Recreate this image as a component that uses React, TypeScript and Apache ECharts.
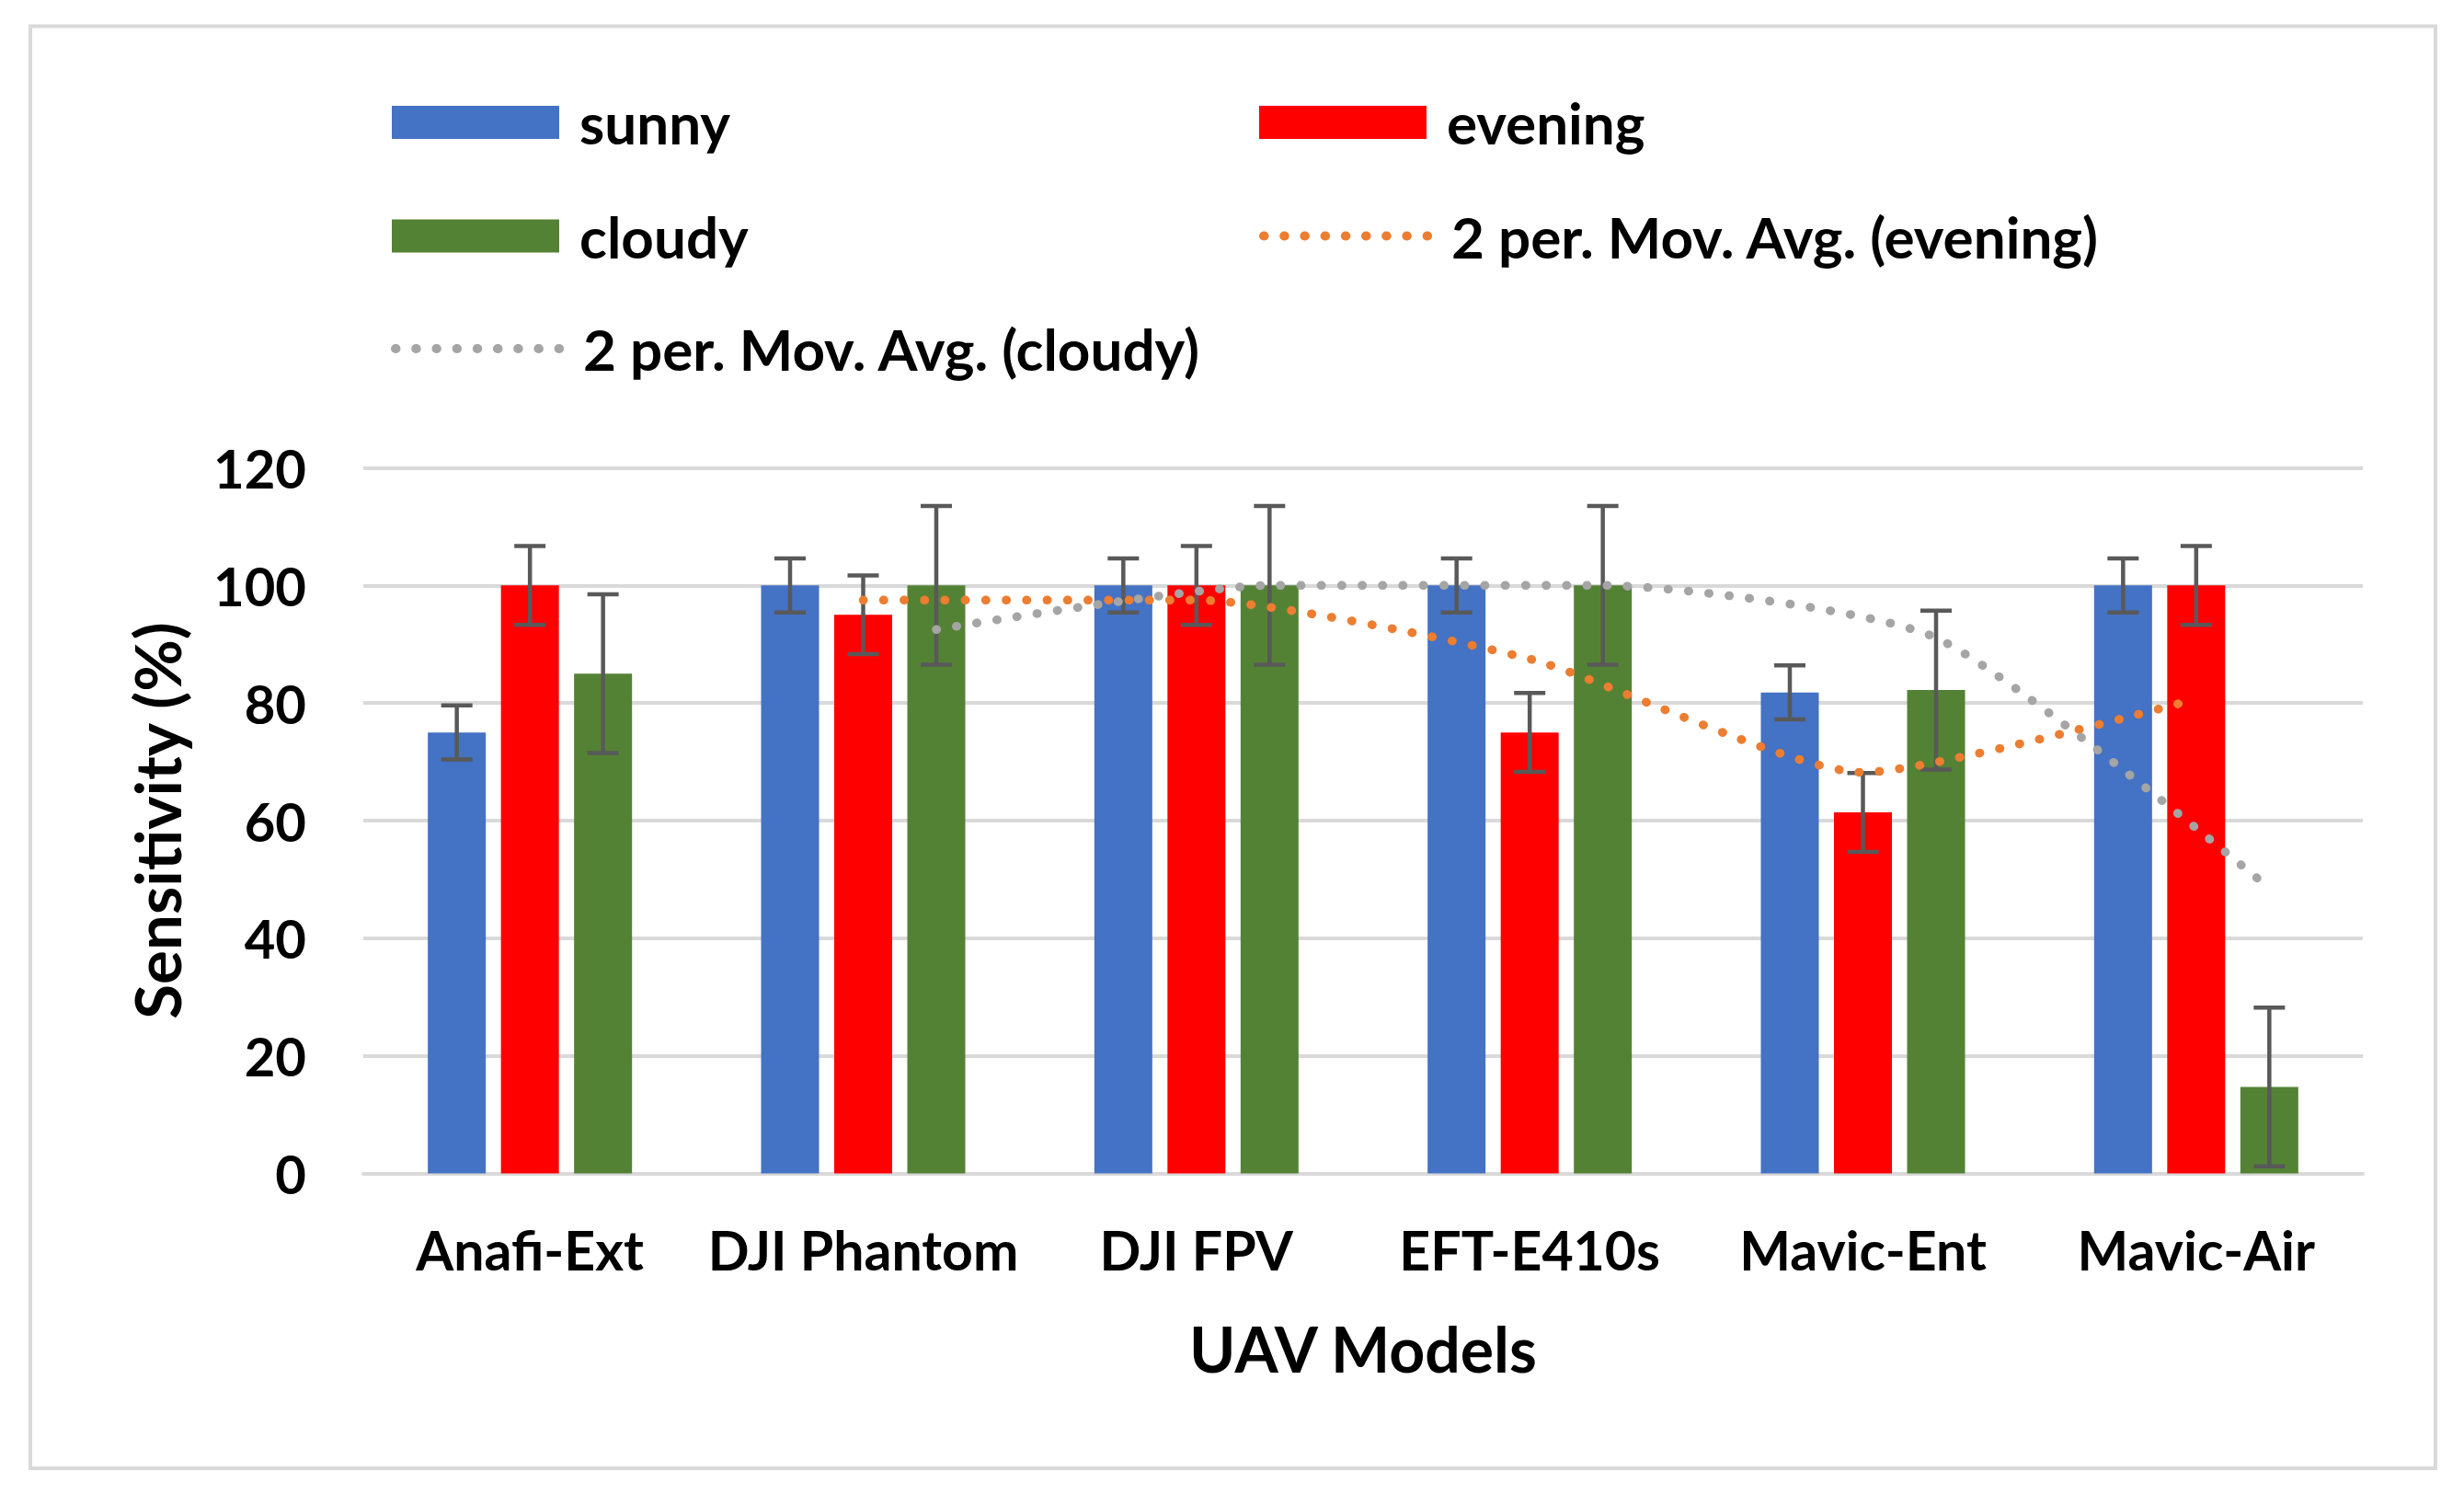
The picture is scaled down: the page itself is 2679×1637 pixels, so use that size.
import React, { useEffect, useRef } from 'react';
import * as echarts from 'echarts';

// ---- data ----
const categories = ['Anafi-Ext', 'DJI Phantom', 'DJI FPV', 'EFT-E410s', 'Mavic-Ent', 'Mavic-Air'];
const sunny = [75, 100, 100, 100, 81.8, 100];
const evening = [100, 95, 100, 75, 61.4, 100];
const cloudy = [85, 100, 100, 100, 82.2, 14.7];
const sunnyErr = [4.6, 4.6, 4.6, 4.6, 4.6, 4.6];
const eveningErr = [6.7, 6.7, 6.7, 6.7, 6.7, 6.7];
const cloudyErr = [13.5, 13.5, 13.5, 13.5, 13.5, 13.5];
// 2-period moving averages (first category has no value)
const eveningMA = [null, 97.5, 97.5, 87.5, 68.2, 80.7];
const cloudyMA = [null, 92.5, 100, 100, 91.1, 48.5];
const yTicks = { min: 0, max: 120, interval: 20 };

// ---- layout / style ----
const W = 2679;
const H = 1637;
const FONT = 'Lato, "Open Sans", sans-serif';
const GRID = { left: 395, top: 508.5, width: 2174, height: 767 };
const BAR_W = 63;
const BAR_GAP_PX = 16.5;
const CAP = 34;
const ERR_COLOR = '#595959';
const COLORS = { sunny: '#4472C4', evening: '#FF0000', cloudy: '#548235', evMA: '#ED7D31', clMA: '#A5A5A5' };
const DOT = [0.5, 21.7];

export default function App() {
  const ref = useRef<HTMLDivElement>(null);
  useEffect(() => {
    document.body.style.margin = '0';
    const chart = echarts.init(ref.current as HTMLDivElement, null, { renderer: 'svg' });
    const catW = GRID.width / categories.length;
    const step = BAR_W + BAR_GAP_PX;

    const errSeries = (name: string, vals: number[], errs: number[], k: number) => ({
      type: 'custom',
      name,
      xAxisIndex: 0,
      yAxisIndex: 0,
      silent: true,
      z: 4,
      encode: { x: 0, y: 1 },
      data: vals.map((v, i) => [i, v, errs[i]]),
      renderItem: (params: any, api: any) => {
        const i = api.value(0);
        const v = api.value(1);
        const e = api.value(2);
        const top = api.coord([i, v + e]);
        const bot = api.coord([i, v - e]);
        const x = top[0] + k * step;
        const st = { stroke: ERR_COLOR, lineWidth: 4.5 };
        return {
          type: 'group',
          children: [
            { type: 'line', shape: { x1: x, y1: top[1], x2: x, y2: bot[1] }, style: st },
            { type: 'line', shape: { x1: x - CAP / 2, y1: top[1], x2: x + CAP / 2, y2: top[1] }, style: st },
            { type: 'line', shape: { x1: x - CAP / 2, y1: bot[1], x2: x + CAP / 2, y2: bot[1] }, style: st },
          ],
        };
      },
    });

    const maData = (vals: (number | null)[], k: number) =>
      vals
        .map((v, i) => (v == null ? null : [i + (k * step) / catW, v]))
        .filter((d) => d != null);

    const legendText = {
      fontFamily: FONT,
      fontWeight: 'bold',
      fontSize: 62,
      color: '#000',
      lineHeight: 62,
      padding: [0, 0, 0, 17],
    };
    const legendItem = (name: string, left: number, cy: number, line?: string) => ({
      data: [name],
      left,
      top: cy - 31,
      itemWidth: 182,
      itemHeight: 36,
      itemGap: 0,
      padding: 0,
      selectedMode: false,
      textStyle: legendText,
      ...(line
        ? {
            lineStyle: { color: line, width: 10, type: DOT, cap: 'round', opacity: 1 },
            itemStyle: { opacity: 0, borderWidth: 0 },
          }
        : { icon: 'rect' }),
    });

    const option: any = {
      animation: false,
      backgroundColor: '#ffffff',
      graphic: [
        {
          type: 'rect',
          shape: { x: 33, y: 28.5, width: 2615, height: 1567.5 },
          style: { fill: 'none', stroke: '#d9d9d9', lineWidth: 4 },
          silent: true,
        },
      ],
      legend: [
        legendItem('sunny', 426, 133),
        legendItem('evening', 1369, 133),
        legendItem('cloudy', 426, 256.5),
        legendItem('2 per. Mov. Avg. (evening)', 1369, 256.5, COLORS.evMA),
        legendItem('2 per. Mov. Avg. (cloudy)', 425, 379),
      ].map((l, i) => (i === 4 ? { ...legendItem('2 per. Mov. Avg. (cloudy)', 425, 379, COLORS.clMA) } : l)),
      grid: { ...GRID, containLabel: false },
      xAxis: [
        {
          type: 'category',
          data: categories,
          axisTick: { show: false },
          axisLine: { show: true, lineStyle: { color: '#d9d9d9', width: 4 } },
          axisLabel: {
            fontFamily: FONT,
            fontWeight: 'bold',
            fontSize: 59,
            lineHeight: 59,
            color: '#000',
            margin: 53,
            interval: 0,
          },
          name: 'UAV Models',
          nameLocation: 'middle',
          nameGap: 156,
          nameTextStyle: { fontFamily: FONT, fontWeight: 'bold', fontSize: 68, lineHeight: 68, color: '#000' },
        },
        { type: 'value', min: -0.5, max: 5.5, show: false },
      ],
      yAxis: {
        type: 'value',
        min: yTicks.min,
        max: yTicks.max,
        interval: yTicks.interval,
        axisLine: { show: false },
        axisTick: { show: false },
        splitLine: { lineStyle: { color: '#d9d9d9', width: 4 } },
        axisLabel: {
          fontFamily: FONT,
          fontWeight: 'bold',
          fontSize: 58,
          color: '#000',
          margin: 62,
        },
        name: 'Sensitivity (%)',
        nameLocation: 'middle',
        nameRotate: 90,
        nameGap: 190,
        nameTextStyle: { fontFamily: FONT, fontWeight: 'bold', fontSize: 69, lineHeight: 69, color: '#000' },
      },
      series: [
        { type: 'bar', name: 'sunny', data: sunny, barWidth: BAR_W, barGap: (BAR_GAP_PX / BAR_W) * 100 + '%', itemStyle: { color: COLORS.sunny }, z: 2 },
        { type: 'bar', name: 'evening', data: evening, barWidth: BAR_W, barGap: (BAR_GAP_PX / BAR_W) * 100 + '%', itemStyle: { color: COLORS.evening }, z: 2 },
        { type: 'bar', name: 'cloudy', data: cloudy, barWidth: BAR_W, barGap: (BAR_GAP_PX / BAR_W) * 100 + '%', itemStyle: { color: COLORS.cloudy }, z: 2 },
        errSeries('sunny error', sunny, sunnyErr, -1),
        errSeries('evening error', evening, eveningErr, 0),
        errSeries('cloudy error', cloudy, cloudyErr, 1),
        {
          type: 'line',
          name: '2 per. Mov. Avg. (evening)',
          xAxisIndex: 1,
          data: maData(eveningMA, 0),
          smooth: 0.2,
          symbol: 'none',
          z: 5,
          lineStyle: { color: COLORS.evMA, width: 9.5, type: DOT, cap: 'round' },
          itemStyle: { color: COLORS.evMA },
        },
        {
          type: 'line',
          name: '2 per. Mov. Avg. (cloudy)',
          xAxisIndex: 1,
          data: maData(cloudyMA, 1),
          smooth: 0.2,
          symbol: 'none',
          z: 5,
          lineStyle: { color: COLORS.clMA, width: 9.5, type: DOT, cap: 'round' },
          itemStyle: { color: COLORS.clMA },
        },
      ],
    };
    chart.setOption(option);
    return () => chart.dispose();
  }, []);
  return <div ref={ref} style={{ width: W, height: H }} />;
}
